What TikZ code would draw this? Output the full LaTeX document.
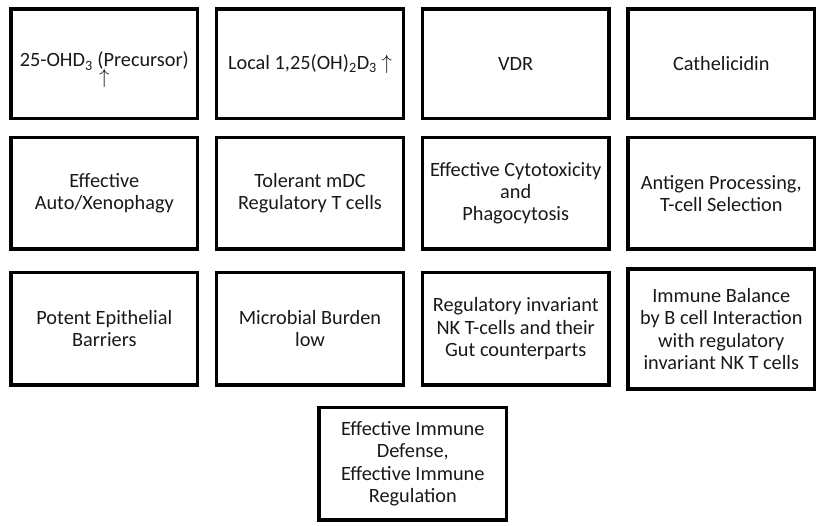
\documentclass[tikz,border=0pt]{standalone}
\usepackage{fontspec}
\setmainfont{Carlito}
\newcommand{\uparr}{$\uparrow$}
\begin{document}
\begin{tikzpicture}[x=1pt,y=-1pt,
  box/.style={draw=black, line width=3.3pt, align=center, inner sep=0pt,
    text=black!90, font=\fontsize{20.3}{22.4}\selectfont,
    minimum width=186.7pt},
  rowa/.style={minimum height=109.4pt},
  rowb/.style={minimum height=111.4pt},
  rowc/.style={minimum height=112.7pt}]
\useasboundingbox (0,0) rectangle (822,526);
% row 1
\node[box,rowa] (pre) at (104.3,63.7) {\rule{0pt}{27pt}25-OHD\textsubscript{3} (Precursor)\\[-6pt]\uparr};
\node[box,rowa] (loc) at (310,63.7) {Local 1,25(OH)\textsubscript{2}D\textsubscript{3} \uparr};
\node[box,rowa] (vdr) at (515.7,63.7) {VDR};
\node[box,rowa] (cat) at (721.3,63.7) {Cathelicidin};
% row 2
\node[box,rowb] (aut) at (104.3,193.3) {Effective\\Auto/Xenophagy};
\node[box,rowb] (tol) at (310,193.3) {Tolerant mDC\\Regulatory T cells};
\node[box,rowb] (cyt) at (515.7,193.3) {Effective Cytotoxicity\\and\\Phagocytosis};
\node[box,rowb] (ant) at (721.3,193.3) {Antigen Processing,\\T-cell Selection};
% row 3
\node[box,rowc] (epi) at (104.3,328.7) {Potent Epithelial\\Barriers};
\node[box,rowc] (mic) at (310,328.7) {Microbial Burden\\low};
\node[box,rowc] (nkt) at (515.7,328.7) {Regulatory invariant\\NK T-cells and their\\Gut counterparts};
\node[box,minimum height=120pt] (bal) at (721.3,329) {Immune Balance\\by B cell Interaction\\with regulatory\\invariant NK T cells};
% bottom
\node[box,minimum width=187.7pt,minimum height=112.4pt] (eff) at (412.8,463.8) {Effective Immune\\Defense,\\Effective Immune\\Regulation};
\end{tikzpicture}
\end{document}
